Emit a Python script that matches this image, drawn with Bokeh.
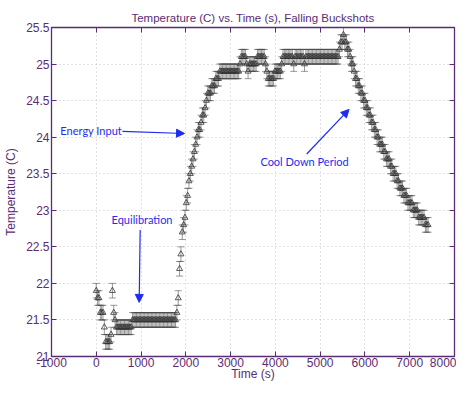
from bokeh.plotting import figure
from bokeh.models import (Range1d, LinearAxis, FixedTicker, CustomJSTickFormatter,
                          Whisker, TeeHead, ColumnDataSource, Label, Arrow, NormalHead)
from bokeh.embed import file_html
from bokeh.resources import INLINE

# ---------------- data ----------------
time_s = [
    0, 30, 60, 90, 120, 150, 180, 210, 240, 270,
    300, 330, 360, 390, 420, 450, 480, 510, 540, 570,
    600, 630, 660, 690, 720, 750, 780, 810, 840, 870,
    900, 930, 960, 990, 1020, 1050, 1080, 1110, 1140, 1170,
    1200, 1230, 1260, 1290, 1320, 1350, 1380, 1410, 1440, 1470,
    1500, 1530, 1560, 1590, 1620, 1650, 1680, 1710, 1740, 1770,
    1800, 1830, 1860, 1890, 1920, 1950, 1980, 2010, 2040, 2070,
    2100, 2130, 2160, 2190, 2220, 2250, 2280, 2310, 2340, 2370,
    2400, 2430, 2460, 2490, 2520, 2550, 2580, 2610, 2640, 2670,
    2700, 2730, 2760, 2790, 2820, 2850, 2880, 2910, 2940, 2970,
    3000, 3030, 3060, 3090, 3120, 3150, 3180, 3210, 3240, 3270,
    3300, 3330, 3360, 3390, 3420, 3450, 3480, 3510, 3540, 3570,
    3600, 3630, 3660, 3690, 3720, 3750, 3780, 3810, 3840, 3870,
    3900, 3930, 3960, 3990, 4020, 4050, 4080, 4110, 4140, 4170,
    4200, 4230, 4260, 4290, 4320, 4350, 4380, 4410, 4440, 4470,
    4500, 4530, 4560, 4590, 4620, 4650, 4680, 4710, 4740, 4770,
    4800, 4830, 4860, 4890, 4920, 4950, 4980, 5010, 5040, 5070,
    5100, 5130, 5160, 5190, 5220, 5250, 5280, 5310, 5340, 5370,
    5400, 5430, 5460, 5490, 5520, 5550, 5580, 5610, 5640, 5670,
    5700, 5730, 5760, 5790, 5820, 5850, 5880, 5910, 5940, 5970,
    6000, 6030, 6060, 6090, 6120, 6150, 6180, 6210, 6240, 6270,
    6300, 6330, 6360, 6390, 6420, 6450, 6480, 6510, 6540, 6570,
    6600, 6630, 6660, 6690, 6720, 6750, 6780, 6810, 6840, 6870,
    6900, 6930, 6960, 6990, 7020, 7050, 7080, 7110, 7140, 7170,
    7200, 7230, 7260, 7290, 7320, 7350, 7380, 7410,
]
temp_c = [
    21.9, 21.8, 21.8, 21.6, 21.6, 21.6, 21.4, 21.2, 21.2, 21.2,
    21.2, 21.3, 21.9, 21.6, 21.5, 21.4, 21.4, 21.4, 21.4, 21.4,
    21.4, 21.4, 21.4, 21.4, 21.4, 21.4, 21.4, 21.5, 21.5, 21.5,
    21.5, 21.5, 21.5, 21.5, 21.5, 21.5, 21.5, 21.5, 21.5, 21.5,
    21.5, 21.5, 21.5, 21.5, 21.5, 21.5, 21.5, 21.5, 21.5, 21.5,
    21.5, 21.5, 21.5, 21.5, 21.5, 21.5, 21.5, 21.5, 21.5, 21.5,
    21.6, 21.8, 22.2, 22.4, 22.7, 22.8, 22.9, 23.1, 23.2, 23.4,
    23.5, 23.6, 23.7, 23.8, 23.9, 24.0, 24.1, 24.1, 24.2, 24.3,
    24.3, 24.4, 24.5, 24.6, 24.6, 24.6, 24.7, 24.7, 24.7, 24.8,
    24.8, 24.8, 24.9, 24.9, 24.9, 24.9, 24.9, 24.9, 24.9, 24.9,
    24.9, 24.9, 24.9, 24.9, 24.9, 24.9, 24.9, 25.0, 25.1, 25.1,
    25.1, 25.1, 25.0, 24.9, 25.0, 25.0, 25.0, 25.0, 25.0, 25.0,
    25.1, 25.1, 25.1, 25.1, 25.1, 25.1, 25.0, 24.9, 24.8, 24.8,
    24.8, 24.8, 24.8, 24.9, 24.9, 24.9, 24.9, 24.9, 25.0, 25.1,
    25.1, 25.1, 25.1, 25.1, 25.1, 25.1, 25.1, 25.0, 25.1, 25.1,
    25.1, 25.1, 25.1, 25.1, 25.1, 25.0, 25.1, 25.1, 25.1, 25.1,
    25.1, 25.1, 25.1, 25.1, 25.1, 25.1, 25.1, 25.1, 25.1, 25.1,
    25.1, 25.1, 25.1, 25.1, 25.1, 25.1, 25.1, 25.1, 25.1, 25.1,
    25.1, 25.2, 25.3, 25.3, 25.4, 25.3, 25.3, 25.2, 25.2, 25.1,
    25.0, 25.0, 24.9, 24.8, 24.8, 24.7, 24.7, 24.6, 24.6, 24.5,
    24.5, 24.4, 24.4, 24.3, 24.3, 24.2, 24.2, 24.1, 24.1, 24.0,
    24.0, 23.9, 23.9, 23.9, 23.8, 23.8, 23.7, 23.7, 23.7, 23.6,
    23.6, 23.5, 23.5, 23.5, 23.4, 23.4, 23.3, 23.3, 23.3, 23.2,
    23.2, 23.2, 23.1, 23.1, 23.1, 23.1, 23.0, 23.0, 23.0, 23.0,
    22.9, 22.9, 22.9, 22.9, 22.9, 22.8, 22.8, 22.8,
]
temp_err = 0.1  # +/- measurement uncertainty (C)

x_ticks = [-1000, 0, 1000, 2000, 3000, 4000, 5000, 6000, 7000, 8000]
y_ticks = [21, 21.5, 22, 22.5, 23, 23.5, 24, 24.5, 25, 25.5]

title_text = "Temperature (C) vs. Time (s), Falling Buckshots"
x_label = "Time (s)"
y_label = "Temperature (C)"

note_texts = ["Energy Input", "Equilibration", "Cool Down Period"]

# ---------------- styling ----------------
PURPLE = "#5a2d73"
BLUE = "#1f2cf0"
FONT = "Liberation Sans"
NOTE_FONT = "Lato"

p = figure(width=456, height=383, output_backend="svg", toolbar_location=None,
           x_range=Range1d(x_ticks[0], x_ticks[-1]),
           y_range=Range1d(y_ticks[0], y_ticks[-1]),
           min_border_left=51, min_border_right=2, min_border_top=27, min_border_bottom=23)
p.background_fill_color = "white"
p.border_fill_color = "white"
p.outline_line_color = PURPLE
p.outline_line_width = 1.3

p.title.text = title_text
p.title.align = "center"
p.title.text_font = FONT
p.title.text_font_size = "11.5px"
p.title.text_font_style = "normal"
p.title.text_color = PURPLE
p.title.standoff = 8
p.title.offset = 0

fmt = CustomJSTickFormatter(code="return String(tick);")

for ax in (p.xaxis[0], p.yaxis[0]):
    ax.axis_line_color = PURPLE
    ax.major_tick_line_color = PURPLE
    ax.major_tick_in = 5
    ax.major_tick_out = 0
    ax.minor_tick_line_color = None
    ax.major_label_text_color = PURPLE
    ax.major_label_text_font = FONT
    ax.major_label_text_font_size = "12px"
    ax.formatter = fmt
    ax.major_label_standoff = 2
    ax.axis_label_text_font = FONT
    ax.axis_label_text_font_size = "12px"
    ax.axis_label_text_font_style = "normal"
    ax.axis_label_text_color = PURPLE

p.xaxis[0].ticker = FixedTicker(ticks=x_ticks)
p.yaxis[0].ticker = FixedTicker(ticks=y_ticks)
p.yaxis[0].axis_label = y_label
p.yaxis[0].axis_label_standoff = 5
p.xaxis[0].axis_label = x_label
p.xaxis[0].major_label_standoff = 1
p.xaxis[0].axis_label_standoff = -3

for loc, ticks in (("above", x_ticks), ("right", y_ticks)):
    ax = LinearAxis(ticker=FixedTicker(ticks=ticks))
    ax.axis_line_color = PURPLE
    ax.major_tick_line_color = PURPLE
    ax.major_tick_in = 5
    ax.major_tick_out = 0
    ax.minor_tick_line_color = None
    ax.major_label_overrides = {t: "" for t in ticks}
    ax.major_label_text_font_size = "1px"
    ax.major_label_standoff = 0
    p.add_layout(ax, loc)

p.xgrid.ticker = FixedTicker(ticks=x_ticks)
p.ygrid.ticker = FixedTicker(ticks=y_ticks)
for g in (p.xgrid[0], p.ygrid[0]):
    g.grid_line_color = "#c4c4c4"
    g.grid_line_dash = "1 3"
    g.grid_line_width = 1

# ---------------- data glyphs ----------------
src = ColumnDataSource(dict(
    t=time_s, v=temp_c,
    hi=[v + temp_err for v in temp_c],
    lo=[v - temp_err for v in temp_c],
))
ERR = "#4a4a4a"
p.add_layout(Whisker(source=src, base="t", upper="hi", lower="lo",
                     line_color=ERR, line_width=0.7, line_alpha=0.8,
                     upper_head=TeeHead(size=7, line_color=ERR, line_width=0.7, line_alpha=0.8),
                     lower_head=TeeHead(size=7, line_color=ERR, line_width=0.7, line_alpha=0.8)))
p.scatter("t", "v", source=src, marker="triangle", size=6,
          fill_color=None, line_color="#333333", line_width=0.8)

# ---------------- annotations ----------------
note_pos = [(-802, 24.09), (342, 22.88), (3665, 23.67)]
for txt, (nx, ny) in zip(note_texts, note_pos):
    p.add_layout(Label(x=nx, y=ny, text=txt, text_align="left", text_baseline="middle",
                       text_font=NOTE_FONT, text_font_size="11px", text_color=BLUE))

arrows = [((584, 24.08), (1971, 24.05)),
          ((980, 22.73), (958, 21.74)),
          ((4699, 23.77), (5645, 24.38))]
for (x0, y0), (x1, y1) in arrows:
    p.add_layout(Arrow(x_start=x0, y_start=y0, x_end=x1, y_end=y1,
                       line_color=BLUE, line_width=1.2,
                       end=NormalHead(size=8, fill_color=BLUE, line_color=BLUE)))

open("out.html", "w").write(file_html(p, INLINE))
